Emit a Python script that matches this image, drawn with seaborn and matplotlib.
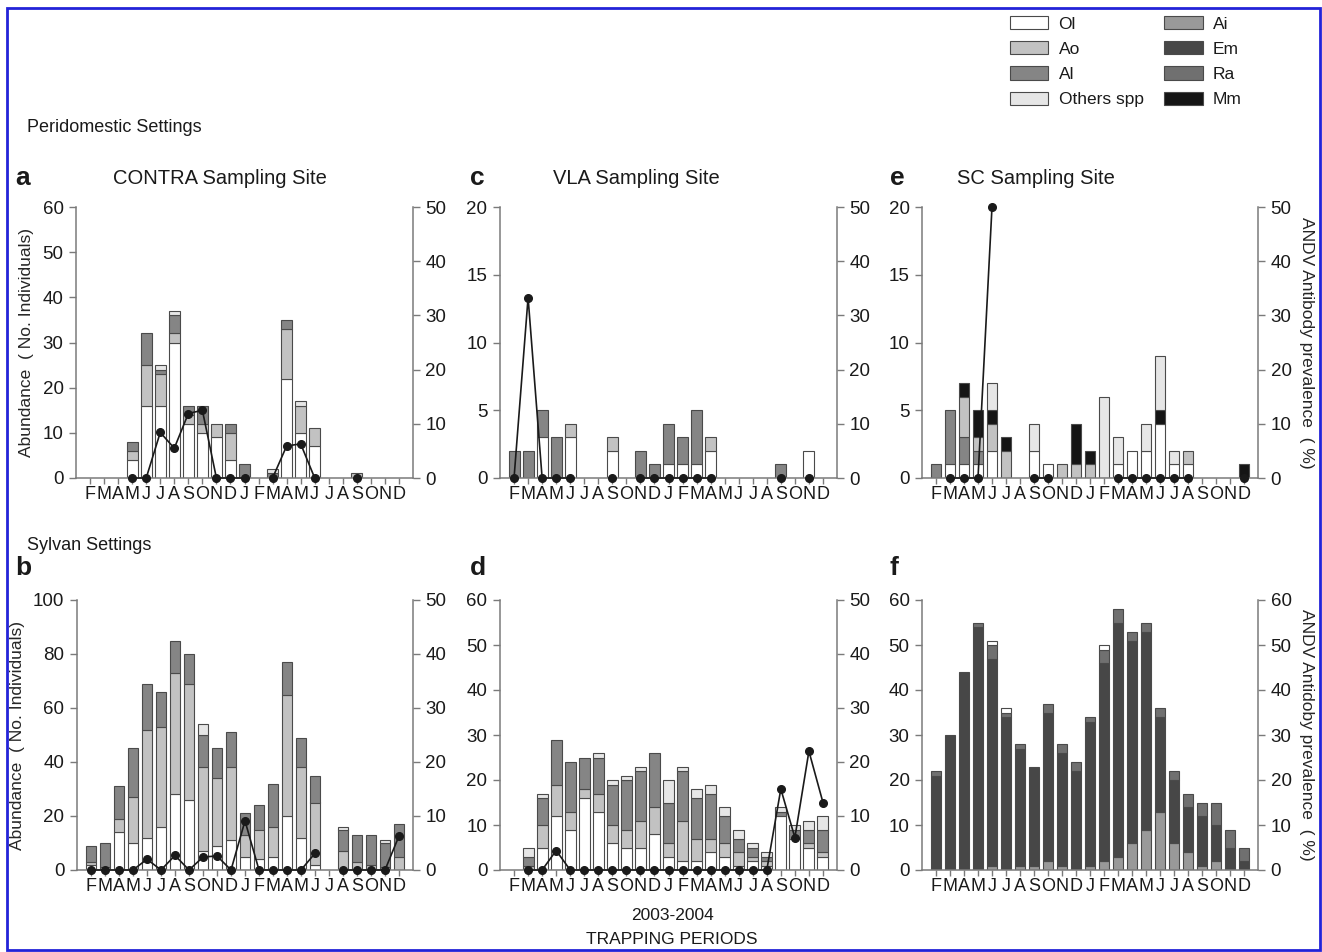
import numpy as np
import matplotlib
matplotlib.use("Agg")
import matplotlib.pyplot as plt
from matplotlib.patches import Patch, Rectangle
import seaborn as sns

nan = np.nan

# ─────────────────────────────────────────────
# DATA  (Feb 2003 - Dec 2004, one value per trapping month)
# ─────────────────────────────────────────────
MONTHS = list("FMAMJJASOND") + list("JFMAMJJASOND")

# a) CONTRA - peridomestic
A_OL  = [0, 0, 0, 4, 16, 16, 30, 12, 10, 9, 4, 0, 0, 0, 22, 10, 7, 0, 0, 0, 0, 0, 0]
A_AO  = [0, 0, 0, 2, 9, 7, 2, 2, 2, 3, 6, 0, 0, 0, 11, 6, 4, 0, 0, 1, 0, 0, 0]
A_AL  = [0, 0, 0, 2, 7, 1, 4, 2, 4, 0, 2, 3, 0, 1, 2, 0, 0, 0, 0, 0, 0, 0, 0]
A_OTH = [0, 0, 0, 0, 0, 1, 1, 0, 0, 0, 0, 0, 0, 1, 0, 1, 0, 0, 0, 0, 0, 0, 0]
A_PREV = [nan, nan, nan, 0, 0, 8.4, 5.5, 11.9, 12.5, 0, 0, 0, nan, 0, 5.9, 6.3, 0,
          nan, nan, 0, nan, nan, nan]

# c) VLA - peridomestic
C_OL = [0, 0, 3, 0, 3, 0, 0, 2, 0, 0, 0, 1, 1, 1, 2, 0, 0, 0, 0, 0, 0, 2, 0]
C_AO = [0, 0, 0, 0, 1, 0, 0, 1, 0, 0, 0, 0, 0, 0, 1, 0, 0, 0, 0, 0, 0, 0, 0]
C_AL = [2, 2, 2, 3, 0, 0, 0, 0, 0, 2, 1, 3, 2, 4, 0, 0, 0, 0, 0, 1, 0, 0, 0]
C_PREV = [0, 33.3, 0, 0, 0, nan, nan, 0, nan, 0, 0, 0, 0, 0, 0, nan, nan, nan, nan,
          0, nan, 0, nan]

# e) SC - peridomestic
E_OL  = [0, 1, 1, 1, 2, 0, 0, 2, 1, 0, 0, 0, 0, 1, 2, 2, 4, 1, 1, 0, 0, 0, 0]
E_AL  = [1, 4, 2, 1, 0, 0, 0, 0, 0, 0, 0, 0, 0, 0, 0, 0, 0, 0, 0, 0, 0, 0, 0]
E_AO  = [0, 0, 3, 1, 2, 2, 0, 0, 0, 1, 1, 1, 0, 0, 0, 0, 0, 0, 1, 0, 0, 0, 0]
E_MM  = [0, 0, 1, 2, 1, 1, 0, 0, 0, 0, 3, 1, 0, 0, 0, 0, 1, 0, 0, 0, 0, 0, 1]
E_OTH = [0, 0, 0, 0, 2, 0, 0, 2, 0, 0, 0, 0, 6, 2, 0, 2, 4, 1, 0, 0, 0, 0, 0]
E_PREV = [nan, 0, 0, 0, 50, nan, nan, 0, 0, nan, nan, nan, nan, 0, 0, 0, 0, 0, 0,
          nan, nan, nan, 0]

# b) CONTRA - sylvan
B_OL  = [2, 0, 14, 10, 12, 16, 28, 26, 7, 9, 11, 5, 4, 5, 20, 12, 2, 0, 0, 0, 0, 0, 0]
B_AO  = [1, 1, 5, 17, 40, 37, 45, 43, 31, 25, 27, 8, 11, 11, 45, 26, 23, 0, 7, 3, 2, 1, 5]
B_AL  = [6, 9, 12, 18, 17, 13, 12, 11, 12, 11, 13, 8, 9, 16, 12, 11, 10, 0, 8, 10, 11, 9, 12]
B_OTH = [0, 0, 0, 0, 0, 0, 0, 0, 4, 0, 0, 0, 0, 0, 0, 0, 0, 0, 1, 0, 0, 1, 0]
B_PREV = [0, 0, 0, 0, 2, 0, 2.7, 0, 2.4, 2.6, 0, 9.1, 0, 0, 0, 0, 3.1, nan,
          0, 0, 0, 0, 6.3]

# d) VLA - sylvan
D_OL  = [0, 0, 5, 12, 9, 16, 13, 6, 5, 5, 8, 3, 2, 2, 4, 3, 1, 2, 1, 12, 7, 5, 3]
D_AO  = [0, 1, 5, 7, 4, 2, 4, 4, 4, 6, 6, 3, 9, 5, 3, 3, 3, 1, 1, 0, 0, 1, 1]
D_AL  = [0, 2, 6, 10, 11, 7, 8, 9, 11, 11, 12, 9, 11, 9, 10, 6, 3, 2, 1, 1, 2, 3, 5]
D_OTH = [0, 2, 1, 0, 0, 0, 1, 1, 1, 1, 0, 5, 1, 2, 2, 2, 2, 1, 1, 1, 1, 2, 3]
D_PREV = [nan, 0, 0, 3.6, 0, 0, 0, 0, 0, 0, 0, 0, 0, 0, 0, 0, 0, 0, 0, 15, 6, 22, 12.5]

# f) SC - sylvan
F_AI = [0, 0, 0, 0, 1, 0, 1, 1, 2, 1, 0, 1, 2, 3, 6, 9, 13, 6, 4, 1, 2, 0, 0]
F_EM = [21, 30, 44, 54, 46, 34, 26, 22, 33, 25, 22, 32, 44, 52, 45, 44, 21, 14, 10, 11, 8, 5, 2]
F_RA = [1, 0, 0, 1, 3, 1, 1, 0, 2, 2, 2, 1, 3, 3, 2, 2, 2, 2, 3, 3, 5, 4, 3]
F_OL = [0, 0, 0, 0, 1, 1, 0, 0, 0, 0, 0, 0, 1, 0, 0, 0, 0, 0, 0, 0, 0, 0, 0]

# ─────────────────────────────────────────────
# STYLE
# ─────────────────────────────────────────────
sns.set_style("ticks")
plt.rcParams["font.family"] = ["Liberation Sans", "DejaVu Sans"]
plt.rcParams["text.color"] = "#1a1a1a"
plt.rcParams["xtick.color"] = "#1a1a1a"
plt.rcParams["ytick.color"] = "#1a1a1a"

COLORS = {"Ol": "#ffffff", "Ao": "#c2c2c2", "Al": "#858585", "Others spp": "#e6e6e6",
          "Ai": "#999999", "Em": "#474747", "Ra": "#707070", "Mm": "#151515"}
EDGE = "#4a4a4a"
SPINE = "#7a7a7a"
x = np.arange(len(MONTHS))


def draw_panel(ax, layers, prev, ymax, ystep, rmax, rstep):
    bottom = np.zeros(len(MONTHS))
    for name, vals in layers:
        vals = np.asarray(vals, float)
        m = vals > 0
        ax.bar(x[m], vals[m], bottom=bottom[m], width=0.78, color=COLORS[name],
               edgecolor=EDGE, linewidth=0.8, zorder=2)
        bottom += vals
    ax.set_xlim(-1, 23)
    ax.set_ylim(0, ymax)
    ax.set_yticks(np.arange(0, ymax + 0.1, ystep))
    ax.set_xticks(x)
    ax.set_xticklabels(MONTHS, fontsize=13)
    ax.tick_params(axis="y", labelsize=13.5, length=5, width=1, color=SPINE, pad=4)
    ax.tick_params(axis="x", length=4, width=1, color=SPINE, pad=1.5)
    sns.despine(ax=ax, top=True, right=True)
    for s in ("left", "bottom"):
        ax.spines[s].set_color(SPINE)
        ax.spines[s].set_linewidth(1.1)

    ax2 = ax.twinx()
    ax2.set_ylim(0, rmax)
    ax2.set_yticks(np.arange(0, rmax + 0.1, rstep))
    ax2.tick_params(axis="y", labelsize=13.5, length=5, width=1, color=SPINE, pad=4)
    for s in ("left", "top", "bottom"):
        ax2.spines[s].set_visible(False)
    ax2.spines["right"].set_color(SPINE)
    ax2.spines["right"].set_linewidth(1.1)
    if prev is not None:
        ax2.plot(x, prev, color="#1a1a1a", lw=1.2, marker="o", ms=5.5,
                 clip_on=False, zorder=5)
    return ax2


fig = plt.figure(figsize=(13.22, 9.52), dpi=100)
W, H = 1322, 952


def add_axes(px_left, px_top, px_right, px_bottom):
    return fig.add_axes([px_left / W, 1 - px_bottom / H,
                         (px_right - px_left) / W, (px_bottom - px_top) / H])


ax_a = add_axes(76, 207, 413, 478)
ax_c = add_axes(500, 207, 837, 478)
ax_e = add_axes(922, 207, 1258, 478)
ax_b = add_axes(77, 600, 413, 870)
ax_d = add_axes(500, 600, 837, 870)
ax_f = add_axes(922, 600, 1258, 870)

draw_panel(ax_a, [("Ol", A_OL), ("Ao", A_AO), ("Al", A_AL), ("Others spp", A_OTH)],
           A_PREV, 60, 10, 50, 10)
draw_panel(ax_c, [("Ol", C_OL), ("Ao", C_AO), ("Al", C_AL)], C_PREV, 20, 5, 50, 10)
r_e = draw_panel(ax_e, [("Ol", E_OL), ("Al", E_AL), ("Ao", E_AO), ("Mm", E_MM),
                        ("Others spp", E_OTH)], E_PREV, 20, 5, 50, 10)
draw_panel(ax_b, [("Ol", B_OL), ("Ao", B_AO), ("Al", B_AL), ("Others spp", B_OTH)],
           B_PREV, 100, 20, 50, 10)
draw_panel(ax_d, [("Ol", D_OL), ("Ao", D_AO), ("Al", D_AL), ("Others spp", D_OTH)],
           D_PREV, 60, 10, 50, 10)
r_f = draw_panel(ax_f, [("Ai", F_AI), ("Em", F_EM), ("Ra", F_RA), ("Ol", F_OL)],
                 None, 60, 10, 60, 10)

ylab = "Abundance  ( No. Individuals)"
ax_a.set_ylabel(ylab, fontsize=12.5, labelpad=6)
ax_b.set_ylabel(ylab, fontsize=12.5, labelpad=6)
r_e.set_ylabel("ANDV Antibody prevalence  ( %)", fontsize=12.5, rotation=270, labelpad=16)
r_f.set_ylabel("ANDV Antidoby prevalence  ( %)", fontsize=12.5, rotation=270, labelpad=16)

# panel letters and titles
for letter, px, py in [("a", 15, 178), ("c", 470, 178), ("e", 890, 178),
                       ("b", 15, 568), ("d", 470, 568), ("f", 890, 568)]:
    fig.text(px / W, 1 - py / H, letter, fontsize=19, fontweight="bold",
             ha="left", va="center")
for title, px in [("CONTRA Sampling Site", 220), ("VLA Sampling Site", 636),
                  ("SC Sampling Site", 1036)]:
    fig.text(px / W, 1 - 178 / H, title, fontsize=14.5, ha="center", va="center")

fig.text(27 / W, 1 - 128 / H, "Peridomestic Settings", fontsize=13, ha="left", va="center")
fig.text(27 / W, 1 - 545 / H, "Sylvan Settings", fontsize=13, ha="left", va="center")
fig.text(672 / W, 1 - 916 / H, "2003-2004", fontsize=12.5, ha="center", va="center")
fig.text(672 / W, 1 - 940 / H, "TRAPPING PERIODS", fontsize=12.5, ha="center", va="center")

# legend
handles = [Patch(facecolor=COLORS[s], edgecolor=EDGE, linewidth=0.8, label=s)
           for s in ["Ol", "Ao", "Al", "Others spp", "Ai", "Em", "Ra", "Mm"]]
fig.legend(handles=handles, ncol=2, loc="upper left",
           bbox_to_anchor=(1003 / W, 1 - 9 / H), frameon=False, fontsize=12.5,
           handlelength=2.2, handleheight=0.8, labelspacing=0.55,
           columnspacing=1.2, handletextpad=0.6, borderaxespad=0)

# blue frame around the figure
fig.patches.append(Rectangle((0.005, 0.002), 0.9935, 0.9895, transform=fig.transFigure,
                             fill=False, edgecolor="#2323d8", linewidth=2))

plt.savefig("out.png", dpi=100)
plt.close()
